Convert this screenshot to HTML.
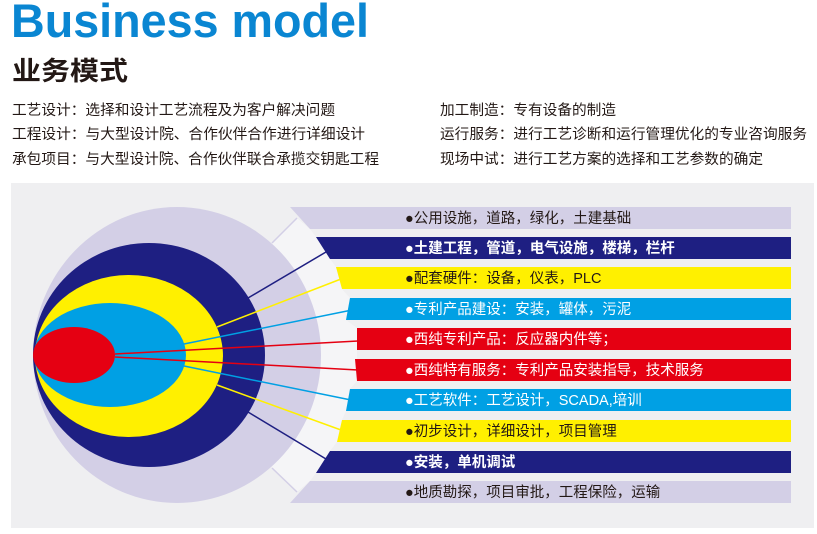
<!DOCTYPE html>
<html><head><meta charset="utf-8"><style>
html,body{margin:0;padding:0;background:#fff;}
svg{display:block;}
text{font-family:"Liberation Sans","Noto Sans CJK SC",sans-serif;}
</style></head><body>
<svg width="817" height="534" viewBox="0 0 817 534" xmlns="http://www.w3.org/2000/svg">
<text x="11" y="37" font-size="47" font-weight="bold" fill="#0a86d2" textLength="358" lengthAdjust="spacingAndGlyphs">Business model</text>
<text x="12" y="80" font-size="26" font-weight="bold" fill="#231815" textLength="116" lengthAdjust="spacingAndGlyphs">业务模式</text>
<g font-size="14.5" fill="#231815">
<text x="12" y="115" textLength="323" lengthAdjust="spacingAndGlyphs">工艺设计：选择和设计工艺流程及为客户解决问题</text>
<text x="12" y="139" textLength="353" lengthAdjust="spacingAndGlyphs">工程设计：与大型设计院、合作伙伴合作进行详细设计</text>
<text x="12" y="164" textLength="367" lengthAdjust="spacingAndGlyphs">承包项目：与大型设计院、合作伙伴联合承揽交钥匙工程</text>
<text x="440" y="115" textLength="176" lengthAdjust="spacingAndGlyphs">加工制造：专有设备的制造</text>
<text x="440" y="139" textLength="367" lengthAdjust="spacingAndGlyphs">运行服务：进行工艺诊断和运行管理优化的专业咨询服务</text>
<text x="440" y="164" textLength="323" lengthAdjust="spacingAndGlyphs">现场中试：进行工艺方案的选择和工艺参数的确定</text>
</g>
<rect x="11" y="183" width="803" height="345" fill="#efeff1"/>
<path d="M272,243 L297,218 L310,229 L316,237 L330,259 L336,267 L342,289 L350,298 L346,320 L357,328 L357,381 L350,389 L346,411 L342,420 L337,442 L330,451 L316,473 L310,481 L297,492 L272,468 Z" fill="#f5f5f7"/>
<ellipse cx="177" cy="355" rx="144" ry="148" fill="#d3cfe6"/>
<ellipse cx="149" cy="355" rx="116" ry="112" fill="#1e1f82"/>
<ellipse cx="129" cy="356" rx="94" ry="81" fill="#fff000"/>
<ellipse cx="110" cy="355" rx="76" ry="52" fill="#00a0e4"/>
<ellipse cx="74" cy="355" rx="41" ry="28" fill="#e50012"/>
<g stroke-width="1.5">
<line x1="272" y1="243" x2="297" y2="218" stroke="#d3cfe6"/>
<line x1="272" y1="468" x2="297" y2="492" stroke="#d3cfe6"/>
<line x1="248" y1="298" x2="326" y2="252" stroke="#1e1f82"/>
<line x1="217" y1="327" x2="341" y2="279" stroke="#fff000"/>
<line x1="184" y1="344" x2="352" y2="310" stroke="#00a0e4"/>
<line x1="115" y1="354" x2="358" y2="341" stroke="#e50012"/>
<line x1="115" y1="357" x2="358" y2="370" stroke="#e50012"/>
<line x1="184" y1="366" x2="351" y2="400" stroke="#00a0e4"/>
<line x1="217" y1="385" x2="341" y2="430" stroke="#fff000"/>
<line x1="248" y1="412" x2="326" y2="459" stroke="#1e1f82"/>
</g>
<polygon points="290,207 791,207 791,229 310,229" fill="#d3cfe6"/>
<polygon points="316,237 791,237 791,259 330,259" fill="#1e1f82"/>
<polygon points="336,267 791,267 791,289 342,289" fill="#fff000"/>
<polygon points="350,298 791,298 791,320 346,320" fill="#00a0e4"/>
<polygon points="357,328 791,328 791,350 357,350" fill="#e50012"/>
<polygon points="355,359 791,359 791,381 357,381" fill="#e50012"/>
<polygon points="350,389 791,389 791,411 346,411" fill="#00a0e4"/>
<polygon points="342,420 791,420 791,442 337,442" fill="#fff000"/>
<polygon points="330,451 791,451 791,473 316,473" fill="#1e1f82"/>
<polygon points="310,481 791,481 791,503 290,503" fill="#d3cfe6"/>
<g font-size="14.5">
<text x="405" y="223" fill="#231815">●公用设施，道路，绿化，土建基础</text>
<text x="405" y="253" fill="#fff" font-weight="bold">●土建工程，管道，电气设施，楼梯，栏杆</text>
<text x="405" y="283" fill="#231815">●配套硬件：设备，仪表，PLC</text>
<text x="405" y="314" fill="#fff">●专利产品建设：安装，罐体，污泥</text>
<text x="405" y="344" fill="#fff">●西纯专利产品：反应器内件等；</text>
<text x="405" y="375" fill="#fff">●西纯特有服务：专利产品安装指导，技术服务</text>
<text x="405" y="405" fill="#fff">●工艺软件：工艺设计，SCADA,培训</text>
<text x="405" y="436" fill="#231815">●初步设计，详细设计，项目管理</text>
<text x="405" y="467" fill="#fff" font-weight="bold">●安装，单机调试</text>
<text x="405" y="497" fill="#231815">●地质勘探，项目审批，工程保险，运输</text>
</g>
</svg>
</body></html>
